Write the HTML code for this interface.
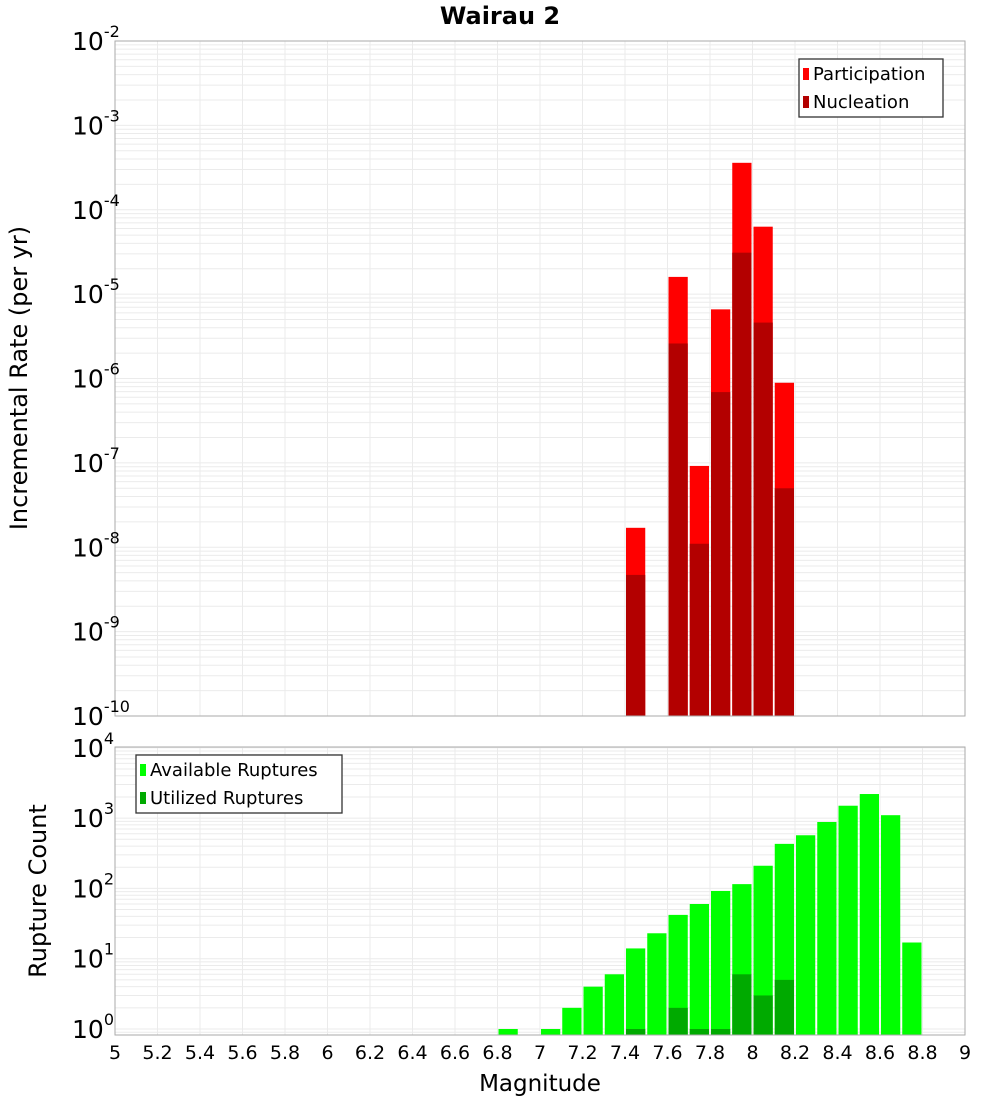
<!DOCTYPE html>
<html><head><meta charset="utf-8"><style>
body{margin:0;background:#fff;}
svg{display:block;font-family:"DejaVu Sans","Liberation Sans",sans-serif;}
</style></head><body>
<svg id="c" width="1000" height="1100" xmlns="http://www.w3.org/2000/svg"></svg>
<script>
const topMags=[7.4,7.6,7.7,7.8,7.9,8.0,8.1];
const participation=[1.7e-8,1.6e-5,9.2e-8,6.6e-6,3.6e-4,6.3e-5,8.9e-7];
const nucleation=[4.7e-9,2.6e-6,1.1e-8,6.9e-7,3.1e-5,4.6e-6,5e-8];
const botMags=[6.8,7.0,7.1,7.2,7.3,7.4,7.5,7.6,7.7,7.8,7.9,8.0,8.1,8.2,8.3,8.4,8.5,8.6,8.7];
const available=[1,1,2,4,6,14,23,42,60,92,115,210,430,570,880,1500,2200,1100,17];
const utilized=[0,0,0,0,0,1,0,2,1,1,6,3,5,0,0,0,0,0,0];
const xTicks=[5,5.2,5.4,5.6,5.8,6,6.2,6.4,6.6,6.8,7,7.2,7.4,7.6,7.8,8,8.2,8.4,8.6,8.8,9];
const xTickLabels=["5","5.2","5.4","5.6","5.8","6","6.2","6.4","6.6","6.8","7","7.2","7.4","7.6","7.8","8","8.2","8.4","8.6","8.8","9"];
const topExp=[-10,-9,-8,-7,-6,-5,-4,-3,-2];
const botExp=[0,1,2,3,4];

const NS="http://www.w3.org/2000/svg";
const svg=document.getElementById('c');
function el(t,a,p){const e=document.createElementNS(NS,t);for(const k in a)e.setAttribute(k,a[k]);(p||svg).appendChild(e);return e;}
const X0=115,X1=965;
const x=m=>X0+(m-5)/4*(X1-X0);
const yTop=v=>41+(-2-Math.log10(v))*84.375;
const yBot=v=>1029-70.3*Math.log10(v);

function panel(name,y0,y1,minE,maxE,yf){
  const g=el('g',{});
  
  
  for(let e=minE-1;e<=maxE;e++)for(let k=1;k<10;k++){
    const yy=yf(k*Math.pow(10,e));
    if(yy<y0||yy>y1)continue;
    el('line',{x1:X0,x2:X1,y1:yy,y2:yy,stroke:'#ebebeb','stroke-width':1},g);
  }
  xTicks.forEach(t=>{el('line',{x1:x(t),x2:x(t),y1:y0,y2:y1,stroke:'#ebebeb','stroke-width':1},g);});
}
panel('top',41,716,-10,-2,yTop);
panel('bottom',747,1035,0,4,yBot);

function bar(m,v,yf,base,col,name){
  const yy=yf(v);
  const r=el('rect',{x:x(m)+1,y:yy,width:x(m+0.1)-x(m)-2,height:base-yy,fill:col});
  
  
}
topMags.forEach((m,i)=>{bar(m,participation[i],yTop,716,'#ff0000','participation-bar');});
topMags.forEach((m,i)=>{bar(m,nucleation[i],yTop,716,'#b30000','nucleation-bar');});
botMags.forEach((m,i)=>{bar(m,available[i],yBot,1035,'#00ff00','available-bar');});
botMags.forEach((m,i)=>{if(utilized[i]>0)bar(m,utilized[i],yBot,1035,'#00aa00','utilized-bar');});

el('rect',{x:X0,y:41,width:X1-X0,height:675,fill:'none',stroke:'#aaa'});
el('rect',{x:X0,y:747,width:X1-X0,height:288,fill:'none',stroke:'#aaa'});

function ylab(e,yy,name){
  const t=el('text',{x:72,y:yy+9,'text-anchor':'start','font-size':25,fill:'#000'});
  
  
  t.textContent='10';
  const s=el('tspan',{dy:-13,'font-size':16});s.textContent=String(e);t.appendChild(s);
}
topExp.forEach(e=>ylab(e,yTop(Math.pow(10,e)),'top-y-tick-label'));
botExp.forEach(e=>ylab(e,yBot(Math.pow(10,e)),'bottom-y-tick-label'));

xTicks.forEach((t,i)=>{
  const tx=el('text',{x:x(t),y:1059,'text-anchor':'middle','font-size':19,fill:'#000'});
  
  
  tx.textContent=xTickLabels[i];
});

function txt(s,a,name){const t=el('text',a);t.textContent=s;return t;}
txt('Wairau 2',{x:500,y:24,'text-anchor':'middle','font-size':24,'font-weight':'bold'},'chart-title');
txt('Magnitude',{x:540,y:1091,'text-anchor':'middle','font-size':23},'x-axis-title');
txt('Incremental Rate (per yr)',{x:0,y:0,'text-anchor':'middle','font-size':24,transform:'translate(27,378) rotate(-90)'},'top-y-axis-title');
txt('Rupture Count',{x:0,y:0,'text-anchor':'middle','font-size':24,transform:'translate(46,891) rotate(-90)'},'bottom-y-axis-title');

function legend(bx,by,w,items,name){
  const g=el('g',{});
  
  
  el('rect',{x:bx,y:by,width:w,height:58,fill:'#fff',stroke:'#333','stroke-width':1.3},g);
  items.forEach((it,i)=>{
    el('rect',{x:bx+4,y:by+9+i*28,width:6,height:12,fill:it[1]},g);
    const t=el('text',{x:bx+14,y:by+21+i*28,'font-size':18},g);t.textContent=it[0];
  });
}
legend(799,59,144,[['Participation','#ff0000'],['Nucleation','#b30000']],'top-legend');
legend(136,755,206,[['Available Ruptures','#00ff00'],['Utilized Ruptures','#00aa00']],'bottom-legend');
</script>
</body></html>
